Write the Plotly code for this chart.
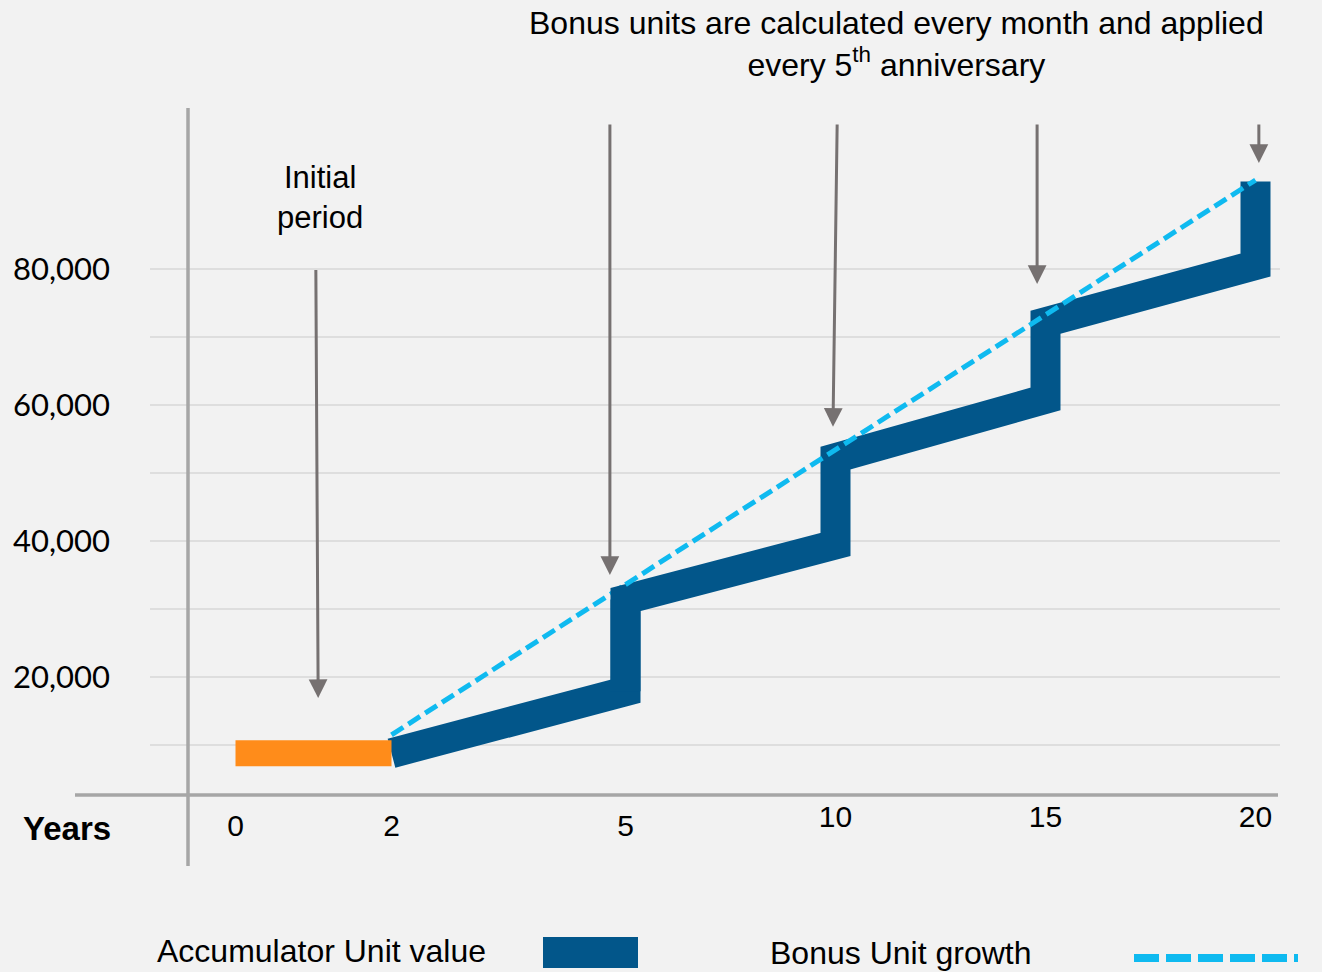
import plotly.graph_objects as go

# ---------------- data ----------------
initial_years = [0, 2]
initial_value = [8800, 8800]

start_year = 2
start_value = 8800
anniversary_years = [5, 10, 15, 20]
value_before_bonus = [17900, 39500, 60900, 80600]
value_after_bonus = [31400, 52200, 72200, 92900]

bonus_growth_years = [2, 5, 20]
bonus_growth_values = [11500, 33600, 93100]

x_ticks_early = [0, 2, 5]
x_ticks_late = [10, 15, 20]
y_ticks = [10000, 20000, 30000, 40000, 50000, 60000, 70000, 80000]
y_ticktext = ["", "20,000", "", "40,000", "", "60,000", "", "80,000"]

# arrows: (axis, x_tail, y_tail, x_tip, y_tip)
arrow_axis = ["x", "x", "x2", "x2", "x2"]
arrow_x_tail = [1.03, 4.80, 10.04, 14.80, 20.08]
arrow_y_tail = [80100, 101500, 101500, 101500, 101500]
arrow_x_tip = [1.06, 4.80, 9.94, 14.80, 20.08]
arrow_y_tip = [16900, 35000, 56800, 77800, 95600]

# ---------------- style ----------------
W, H = 1322, 972
BG = "#f2f2f2"
BLUE = "#02568a"
ORANGE = "#ff8c1a"
LIGHT = "#0fbaf0"
GREY = "#767171"
AXIS_GREY = "#a6a6a6"
FONT = "Liberation Sans, Arial, sans-serif"

def px_x(p):
    return p / W

def px_y(p):
    return (H - p) / H

plot_left, plot_right = 150, 1280
plot_w = plot_right - plot_left
# early section of the timeline is drawn wider than the later one (as in the slide)
early_px_per_year, early_year0_px = 78.0, 235.5
late_px_per_year, late_year5_px = 42.0, 625.5
x1_r0 = -(early_year0_px - plot_left) / early_px_per_year
x1_range = [x1_r0, x1_r0 + plot_w / early_px_per_year]
x2_r0 = 5 - (late_year5_px - plot_left) / late_px_per_year
x2_range = [x2_r0, x2_r0 + plot_w / late_px_per_year]

fig = go.Figure()

# blue accumulator path: early part (axis x) and later part (axis x2)
early_x = [start_year, anniversary_years[0], anniversary_years[0]]
early_y = [start_value, value_before_bonus[0], value_after_bonus[0]]
late_x, late_y = [], []
for i, yr in enumerate(anniversary_years):
    late_x += [yr, yr]
    late_y += [value_before_bonus[i], value_after_bonus[i]]

fig.add_trace(go.Scatter(x=early_x, y=early_y, mode="lines", xaxis="x", yaxis="y",
                         line=dict(color=BLUE, width=30), showlegend=False,
                         name="Accumulator Unit value", hoverinfo="skip"))
fig.add_trace(go.Scatter(x=late_x, y=late_y, mode="lines", xaxis="x2", yaxis="y",
                         line=dict(color=BLUE, width=30), showlegend=False,
                         name="Accumulator Unit value", hoverinfo="skip"))
fig.add_trace(go.Scatter(x=initial_years, y=initial_value, mode="lines", xaxis="x", yaxis="y",
                         line=dict(color=ORANGE, width=26), showlegend=False,
                         name="Initial period", hoverinfo="skip"))
fig.add_trace(go.Scatter(x=bonus_growth_years[:2], y=bonus_growth_values[:2], mode="lines",
                         xaxis="x", yaxis="y",
                         line=dict(color=LIGHT, width=5, dash="14px,6px"), showlegend=False,
                         name="Bonus Unit growth", hoverinfo="skip"))
fig.add_trace(go.Scatter(x=bonus_growth_years[1:], y=bonus_growth_values[1:], mode="lines",
                         xaxis="x2", yaxis="y",
                         line=dict(color=LIGHT, width=5, dash="14px,6px"), showlegend=False,
                         name="Bonus Unit growth", hoverinfo="skip"))

annotations = []
for ax_name, xt, yt, xh, yh in zip(arrow_axis, arrow_x_tail, arrow_y_tail, arrow_x_tip, arrow_y_tip):
    annotations.append(dict(
        x=xh, y=yh, ax=xt, ay=yt, xref=ax_name, yref="y", axref=ax_name, ayref="y",
        text="", showarrow=True, arrowhead=2, arrowsize=1.25, arrowwidth=3,
        arrowcolor=GREY, standoff=0,
    ))

annotations.append(dict(
    x=px_x(896), y=px_y(44), xref="paper", yref="paper", xanchor="center", yanchor="middle",
    text="Bonus units are calculated every month and applied<br>every 5<sup>th</sup> anniversary",
    showarrow=False, font=dict(family=FONT, size=32, color="black"), align="center",
))
annotations.append(dict(
    x=px_x(320), y=px_y(197), xref="paper", yref="paper", xanchor="center", yanchor="middle",
    text="Initial<br>period", showarrow=False,
    font=dict(family=FONT, size=31, color="black"), align="center",
))
annotations.append(dict(
    x=px_x(21), y=px_y(828), xref="paper", yref="paper", xanchor="left", yanchor="middle",
    text="<b>Years</b>", showarrow=False, font=dict(family=FONT, size=33, color="black"),
))
# legend
annotations.append(dict(
    x=px_x(155), y=px_y(951), xref="paper", yref="paper", xanchor="left", yanchor="middle",
    text="Accumulator Unit value", showarrow=False, font=dict(family=FONT, size=32, color="black"),
))
annotations.append(dict(
    x=px_x(768), y=px_y(953), xref="paper", yref="paper", xanchor="left", yanchor="middle",
    text="Bonus Unit growth", showarrow=False, font=dict(family=FONT, size=32, color="black"),
))

shapes = [
    dict(type="line", xref="paper", yref="paper", x0=px_x(75), x1=px_x(1278),
         y0=px_y(795), y1=px_y(795), line=dict(color=AXIS_GREY, width=3.5)),
    dict(type="line", xref="paper", yref="paper", x0=px_x(188), x1=px_x(188),
         y0=px_y(108), y1=px_y(866), line=dict(color=AXIS_GREY, width=3.5)),
    dict(type="rect", xref="paper", yref="paper", x0=px_x(543), x1=px_x(638),
         y0=px_y(968), y1=px_y(937), fillcolor=BLUE, line=dict(width=0)),
    dict(type="line", xref="paper", yref="paper", x0=px_x(1134), x1=px_x(1298),
         y0=px_y(958), y1=px_y(958), line=dict(color=LIGHT, width=8, dash="25px,7px")),
]

tick_font = dict(family=FONT, size=30, color="black")
fig.update_layout(
    width=W, height=H,
    margin=dict(l=0, r=0, t=0, b=0),
    paper_bgcolor=BG, plot_bgcolor=BG,
    showlegend=False,
    font=dict(family=FONT, color="black"),
    xaxis=dict(domain=[px_x(plot_left), px_x(plot_right)], range=x1_range,
               tickvals=x_ticks_early, ticktext=[str(v) for v in x_ticks_early],
               showgrid=False, zeroline=False, showline=False, ticks="",
               tickfont=tick_font, ticklabelstandoff=10),
    xaxis2=dict(domain=[px_x(plot_left), px_x(plot_right)], range=x2_range,
                overlaying="x", anchor="y",
                tickvals=x_ticks_late, ticktext=[str(v) for v in x_ticks_late],
                showgrid=False, zeroline=False, showline=False, ticks="",
                tickfont=tick_font, ticklabelstandoff=1),
    yaxis=dict(domain=[px_y(795), px_y(108)], range=[2650, 103700],
               tickvals=y_ticks, ticktext=y_ticktext,
               showgrid=True, gridcolor="#dedede", gridwidth=1.5,
               zeroline=False, showline=False, ticks="",
               tickfont=dict(family="Lato, Noto Sans, sans-serif", size=31, color="black"),
               ticklabelstandoff=39),
    annotations=annotations,
    shapes=shapes,
)

fig.write_html(
    "out.html",
    config={"displayModeBar": False},
    post_script="document.body.style.margin='0';document.body.style.padding='0';"
                "document.documentElement.style.overflow='hidden';",
)
